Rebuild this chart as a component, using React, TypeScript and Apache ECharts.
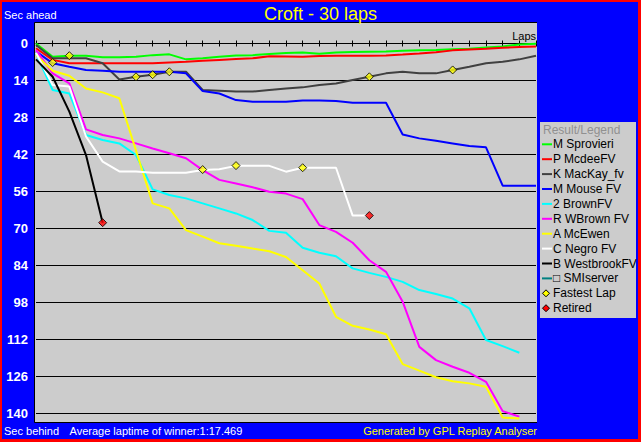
import React, { useEffect, useRef } from "react";
import * as echarts from "echarts";

// ---------- data ----------
const driverNames = [
  "M Sprovieri",
  "P McdeeFV",
  "K MacKay_fv",
  "M Mouse FV",
  "2 BrownFV",
  "R WBrown FV",
  "A McEwen",
  "C Negro FV",
  "B WestbrookFV",
  "□ SMIserver",
];
const driverColors = [
  "#00ff00",
  "#ff0000",
  "#404040",
  "#0000ff",
  "#00ffff",
  "#ff00ff",
  "#ffff00",
  "#ffffff",
  "#000000",
  "#008080",
];

// seconds behind per lap (index = lap number, starting at lap 0)
const sprovieri = [0, 5.0, 4.6, 4.6, 5.2, 5.2, 5.0, 4.4, 4.1, 6.0, 5.6, 5.0, 4.5, 4.4, 4.0, 3.6, 3.4, 3.9, 3.4, 3.2, 3.1, 3.0, 2.7, 2.6, 2.5, 2.2, 2.0, 1.5, 1.1, 0.4, 0.1];
const mcdee = [1.8, 6.2, 7.5, 7.5, 7.5, 7.5, 7.5, 7.5, 7.2, 6.9, 6.5, 6.2, 5.9, 5.6, 4.8, 4.9, 5.0, 4.7, 4.6, 4.6, 4.6, 4.5, 4.2, 3.8, 3.3, 2.6, 2.3, 2.0, 1.6, 1.3, 1.1];
const mackay = [0.6, 5.6, 5.6, 5.6, 7.5, 13.6, 12.6, 11.8, 10.7, 10.7, 17.6, 17.9, 18.2, 18.2, 17.6, 17.0, 16.6, 15.7, 15.1, 13.8, 12.6, 11.3, 10.7, 11.3, 11.3, 10.0, 8.8, 7.5, 6.9, 6.0, 4.6];
const mouse = [3.0, 7.5, 8.8, 10.0, 10.3, 10.7, 10.7, 10.7, 10.7, 11.3, 18.0, 18.9, 21.4, 22.0, 22.0, 22.0, 21.6, 21.6, 21.8, 22.4, 22.4, 22.4, 34.4, 35.9, 36.8, 37.8, 38.8, 39.3, 53.8, 53.8, 53.8];
const brown2 = [3.7, 17.6, 18.9, 34.6, 36.5, 37.8, 42.2, 55.2, 57.3, 58.6, 60.5, 62.4, 64.3, 66.8, 70.9, 71.6, 77.3, 79.2, 80.5, 85.1, 86.8, 88.3, 90.2, 93.3, 94.8, 96.5, 100.2, 112.2, 114.5, 117.0];
const wbrown = [2.5, 11.3, 15.1, 32.5, 34.6, 35.9, 37.8, 39.7, 41.5, 43.4, 47.9, 51.6, 53.0, 54.4, 56.1, 56.8, 58.9, 68.7, 71.3, 75.4, 82.0, 86.4, 97.7, 114.8, 119.8, 122.3, 124.6, 128.0, 139.1, 141.2];
const mcewen = [4.3, 10.3, 12.2, 17.0, 18.5, 20.7, 40.5, 60.5, 62.4, 70.6, 73.1, 75.6, 76.5, 77.6, 78.6, 80.8, 85.8, 90.8, 103.4, 106.8, 108.2, 110.0, 121.3, 123.8, 126.3, 127.8, 128.6, 129.9, 141.5, 141.9];
const negro = [3.5, 15.7, 16.3, 35.2, 44.7, 48.4, 48.4, 48.9, 48.9, 48.9, 47.9, 47.6, 46.3, 46.3, 46.3, 48.5, 47.0, 47.0, 47.0, 65.1, 65.1];
const westbrook = [6.0, 12.6, 25.8, 42.2, 67.8];
const smiserver: number[] = [];

const fastestLaps = [[1, 7.2], [2, 4.6], [6, 12.6], [7, 11.8], [8, 10.7], [10, 47.7], [12, 46.2], [16, 47.0], [20, 12.6], [25, 10.0]];
const retired = [[4, 67.8], [20, 65.1]];

const lapMin = 0;
const lapMax = 30;
const yMin = 0;
const yMax = 140;
const yStep = 14;

const allSeries = [sprovieri, mcdee, mackay, mouse, brown2, wbrown, mcewen, negro, westbrook, smiserver];

const FONT = '"Liberation Sans", Arial, sans-serif';

export default function App() {
  const ref = useRef<HTMLDivElement>(null);

  useEffect(() => {
    if (!ref.current) return;
    const chart = echarts.init(ref.current, undefined, { renderer: "svg" });

    const legendRowY = (i: number) => 144.3 + i * 14.9;
    const legendEls: any[] = [];
    legendEls.push({
      type: "rect",
      shape: { x: 540, y: 122, width: 96, height: 196 },
      style: { fill: "#cccccc" },
      z: -10,
    });
    legendEls.push({
      type: "text",
      x: 543,
      y: 129.7,
      style: { text: "Result/Legend", fill: "#909090", fontSize: 12, fontFamily: FONT, align: "left", verticalAlign: "middle", textAlign: "left", textVerticalAlign: "middle" },
      z: 50,
    });
    driverNames.forEach((n, i) => {
      const y = legendRowY(i);
      legendEls.push({
        type: "line",
        shape: { x1: 542, y1: y, x2: 552, y2: y },
        style: { stroke: driverColors[i], lineWidth: 2 },
        z: 50,
      });
      legendEls.push({
        type: "text",
        x: 553,
        y,
        style: { text: n, fill: "#000000", fontSize: 12, fontFamily: FONT, align: "left", verticalAlign: "middle", textAlign: "left", textVerticalAlign: "middle" },
        z: 50,
      });
    });
    const markerLegend = [
      { name: "Fastest Lap", color: "#ffff00" },
      { name: "Retired", color: "#ff0000" },
    ];
    markerLegend.forEach((m, k) => {
      const y = legendRowY(driverNames.length + k);
      legendEls.push({
        type: "polygon",
        shape: { points: [[546, y - 3.5], [549.5, y], [546, y + 3.5], [542.5, y]] },
        style: { fill: m.color, stroke: "#000000", lineWidth: 1 },
        z: 50,
      });
      legendEls.push({
        type: "text",
        x: 553,
        y,
        style: { text: m.name, fill: "#000000", fontSize: 12, fontFamily: FONT, align: "left", verticalAlign: "middle", textAlign: "left", textVerticalAlign: "middle" },
        z: 50,
      });
    });

    const txt = (text: string, x: number, y: number, color: string, align: string, size = 11) => ({
      type: "text",
      x,
      y,
      style: { text, fill: color, fontSize: size, fontFamily: FONT, align, verticalAlign: "middle", textAlign: align, textVerticalAlign: "middle" },
      z: 50,
    });

    const lineSeries = allSeries.map((d, i) => ({
      name: driverNames[i],
      type: "line",
      xAxisIndex: 0,
      data: d.map((v, lap) => [lap, v]),
      showSymbol: false,
      symbol: "none",
      clip: false,
      lineStyle: { color: driverColors[i], width: 2 },
      itemStyle: { color: driverColors[i] },
      z: 3,
    }));

    chart.setOption({
      animation: false,
      backgroundColor: "#ff0000",
      title: {
        text: "Croft - 30 laps",
        left: "center",
        top: 5,
        padding: 0,
        z: 60,
        textStyle: { color: "#ffff00", fontSize: 18, fontWeight: "normal", fontFamily: FONT, lineHeight: 18 },
      },
      grid: { left: 36, right: 105, top: 43.5, bottom: 28.5 },
      xAxis: [
        {
          type: "value",
          min: lapMin,
          max: lapMax,
          interval: 1,
          position: "top",
          axisLine: { show: true, onZero: false, lineStyle: { color: "#000000", width: 1 } },
          axisTick: { show: true, inside: false, length: 3, lineStyle: { color: "#000000", width: 1 } },
          axisLabel: { show: false },
          splitLine: { show: false },
        },
        {
          type: "value",
          min: lapMin,
          max: lapMax,
          interval: 1,
          position: "top",
          axisLine: { show: false, onZero: false },
          axisTick: { show: true, inside: true, length: 3, lineStyle: { color: "#000000", width: 1 } },
          axisLabel: { show: false },
          splitLine: { show: false },
        },
      ],
      yAxis: {
        type: "value",
        min: yMin,
        max: yMax,
        interval: yStep,
        inverse: true,
        axisLine: { show: false },
        axisTick: { show: false },
        axisLabel: { color: "#ffffff", fontWeight: "bold", fontSize: 13, fontFamily: FONT, margin: 8 },
        splitLine: { show: true, lineStyle: { color: "#000000", width: 1 } },
      },
      graphic: [
        { type: "rect", shape: { x: 2, y: 2, width: 636, height: 437 }, style: { fill: "#0000ff" }, z: -20 },
        { type: "rect", shape: { x: 35, y: 22, width: 502, height: 401 }, style: { fill: "#cccccc" }, z: -10 },
        {
          type: "polyline",
          shape: { points: [[537, 22.5], [34.5, 22.5], [34.5, 422.5], [537, 422.5]] },
          style: { stroke: "#000000", lineWidth: 1, fill: null },
          z: 50,
        },
        ...legendEls,
        txt("Sec ahead", 4, 15, "#ffffff", "left"),
        txt("Laps", 536, 36, "#000000", "right"),
        txt("Sec behind", 4, 430.5, "#ffffff", "left"),
        txt("Average laptime of winner:1:17.469", 69.5, 430.5, "#ffffff", "left"),
        txt("Generated by GPL Replay Analyser", 537, 430.5, "#ffff00", "right"),
      ],
      series: [
        ...lineSeries,
        {
          name: "Fastest Lap",
          type: "scatter",
          xAxisIndex: 0,
          data: fastestLaps,
          symbol: "diamond",
          symbolSize: 8,
          clip: false,
          itemStyle: { color: "#ffff00", borderColor: "#000000", borderWidth: 1 },
          z: 10,
        },
        {
          name: "Retired",
          type: "scatter",
          xAxisIndex: 0,
          data: retired,
          symbol: "diamond",
          symbolSize: 8,
          clip: false,
          itemStyle: { color: "#ff0000", borderColor: "#000000", borderWidth: 1 },
          z: 10,
        },
      ],
    });

    return () => {
      chart.dispose();
    };
  }, []);

  return (
    <div
      ref={ref}
      style={{ position: "absolute", left: 0, top: 0, width: 641, height: 442 }}
    />
  );
}
